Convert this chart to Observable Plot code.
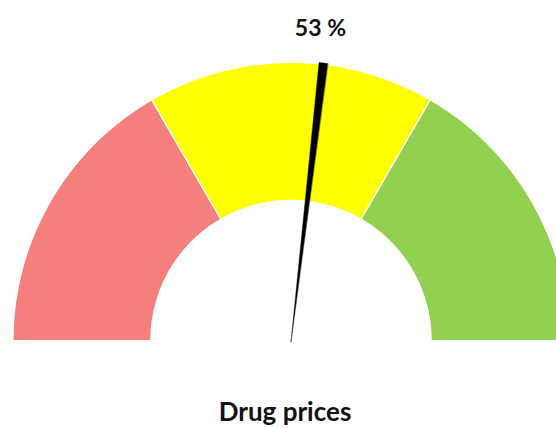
<!DOCTYPE html>
<html>
<head>
<meta charset="utf-8">
<script src="https://cdn.jsdelivr.net/npm/d3@7"></script>
<script src="https://cdn.jsdelivr.net/npm/@observablehq/plot@0.6"></script>
<style>
  html, body { margin: 0; padding: 0; background: #fff; }
  #chart { width: 556px; height: 428px; }
</style>
</head>
<body>
<div id="chart"></div>
<script>
// ---- data ----
const segmentLabels = ["Low", "Medium", "High"];
const segmentShares = [33.3, 33.4, 33.3];          // percent of the dial
const segmentColors = ["#F47F7C", "#FFFF00", "#92D050"];
const needleValue = 53;                              // percent
const needleWidth = 1;                               // percent wedge of the needle
const valueLabel = "53 %";
const chartTitle = "Drug prices";

// ---- geometry (in dial units: outer radius 1, inner 0.5) ----
const W = 556, H = 428;
const R_PX = 278, CX = 290.5, CY = 340;
const innerR = 0.504, outerR = 1;
const toAngle = p => Math.PI * (1 - p / 100);

const arcPoints = [];
let acc = 0;
segmentLabels.forEach((seg, i) => {
  const a0 = toAngle(acc), a1 = toAngle(acc + segmentShares[i]);
  acc += segmentShares[i];
  const n = 60;
  for (let k = 0; k <= n; k++) {
    const a = a0 + (a1 - a0) * k / n;
    arcPoints.push({seg, x: outerR * Math.cos(a), y: outerR * Math.sin(a)});
  }
  for (let k = n; k >= 0; k--) {
    const a = a0 + (a1 - a0) * k / n;
    arcPoints.push({seg, x: innerR * Math.cos(a), y: innerR * Math.sin(a)});
  }
});

// needle: a thin wedge starting at the value
const nA0 = toAngle(needleValue + 0.2), nA1 = toAngle(needleValue + needleWidth + 0.2);
const tipR = 1.005;
const needle = [
  {x: 0, y: -0.005},
  {x: tipR * Math.cos(nA0), y: tipR * Math.sin(nA0)},
  {x: tipR * Math.cos(nA1), y: tipR * Math.sin(nA1)}
];

const la = toAngle(needleValue);
const labelR = 1.125;
const labels = [{x: labelR * Math.cos(la), y: labelR * Math.sin(la), text: valueLabel}];

const xDomain = [-CX / R_PX, (W - CX) / R_PX];
const yDomain = [-(H - CY) / R_PX, CY / R_PX];

const chart = Plot.plot({
  width: W, height: H,
  margin: 0,
  x: {domain: xDomain, axis: null},
  y: {domain: yDomain, axis: null},
  color: {domain: segmentLabels, range: segmentColors},
  style: {fontFamily: "Lato, 'Open Sans', sans-serif", background: "white"},
  marks: [
    Plot.line(arcPoints, {x: "x", y: "y", z: "seg", fill: "seg", stroke: "white", strokeWidth: 1.2, curve: "linear-closed", clip: true}),
    Plot.line(needle, {x: "x", y: "y", fill: "black", stroke: "black", strokeWidth: 0.4, curve: "linear-closed"}),
    Plot.text(labels, {x: "x", y: "y", text: "text", fontSize: 23, fontWeight: "bold", fill: "#111", dy: -1}),
    Plot.text([chartTitle], {frameAnchor: "bottom", text: d => d, fontSize: 26, fontWeight: "bold", fill: "#111", dx: 284.5 - W / 2, dy: -8})
  ]
});
document.getElementById("chart").appendChild(chart);
</script>
</body>
</html>
